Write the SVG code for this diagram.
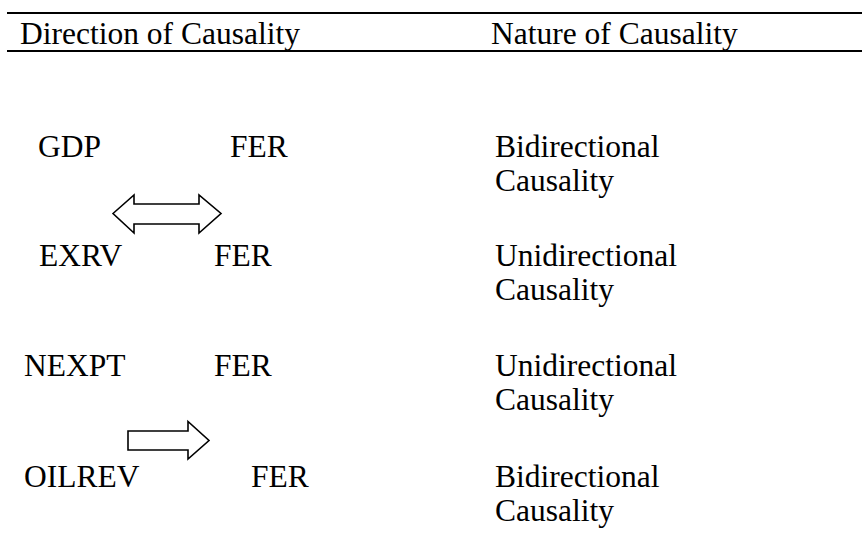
<svg xmlns="http://www.w3.org/2000/svg" width="862" height="540" viewBox="0 0 862 540">
<style>
text{font-family:"Liberation Serif","Times New Roman",serif;font-size:31.5px;fill:#000}
.rule{stroke:#000;stroke-width:2}
.arrow{fill:#fff;stroke:#000;stroke-width:1.6;stroke-linejoin:miter}
</style>
<rect width="862" height="540" fill="#fff"/>
<g id="header">
<line class="rule" x1="7" y1="13" x2="862" y2="13"/>
<line class="rule" x1="7" y1="51" x2="862" y2="51"/>
<text x="20" y="44">Direction of Causality</text>
<text x="491" y="44">Nature of Causality</text>
</g>
<g id="row-gdp">
<text x="38" y="157">GDP</text>
<text x="230" y="157">FER</text>
<text x="495" y="157">Bidirectional</text>
<text x="495" y="191">Causality</text>
</g>
<g id="row-exrv">
<text x="39" y="266">EXRV</text>
<text x="214" y="266">FER</text>
<text x="495" y="266">Unidirectional</text>
<text x="495" y="300">Causality</text>
</g>
<g id="row-nexpt">
<text x="24" y="376">NEXPT</text>
<text x="214" y="376">FER</text>
<text x="495" y="376">Unidirectional</text>
<text x="495" y="410">Causality</text>
</g>
<g id="row-oilrev">
<text x="24" y="487">OILREV</text>
<text x="251" y="487">FER</text>
<text x="495" y="487">Bidirectional</text>
<text x="495" y="521">Causality</text>
</g>
<g id="connectors">
<polygon class="arrow" points="113,213.5 134,195 134,204 199,204 199,195 221,213.5 199,233 199,224 134,224 134,233"/>
<polygon class="arrow" points="128,431 188,431 188,421.5 209,440.5 188,459 188,450 128,450"/>
</g>
</svg>
